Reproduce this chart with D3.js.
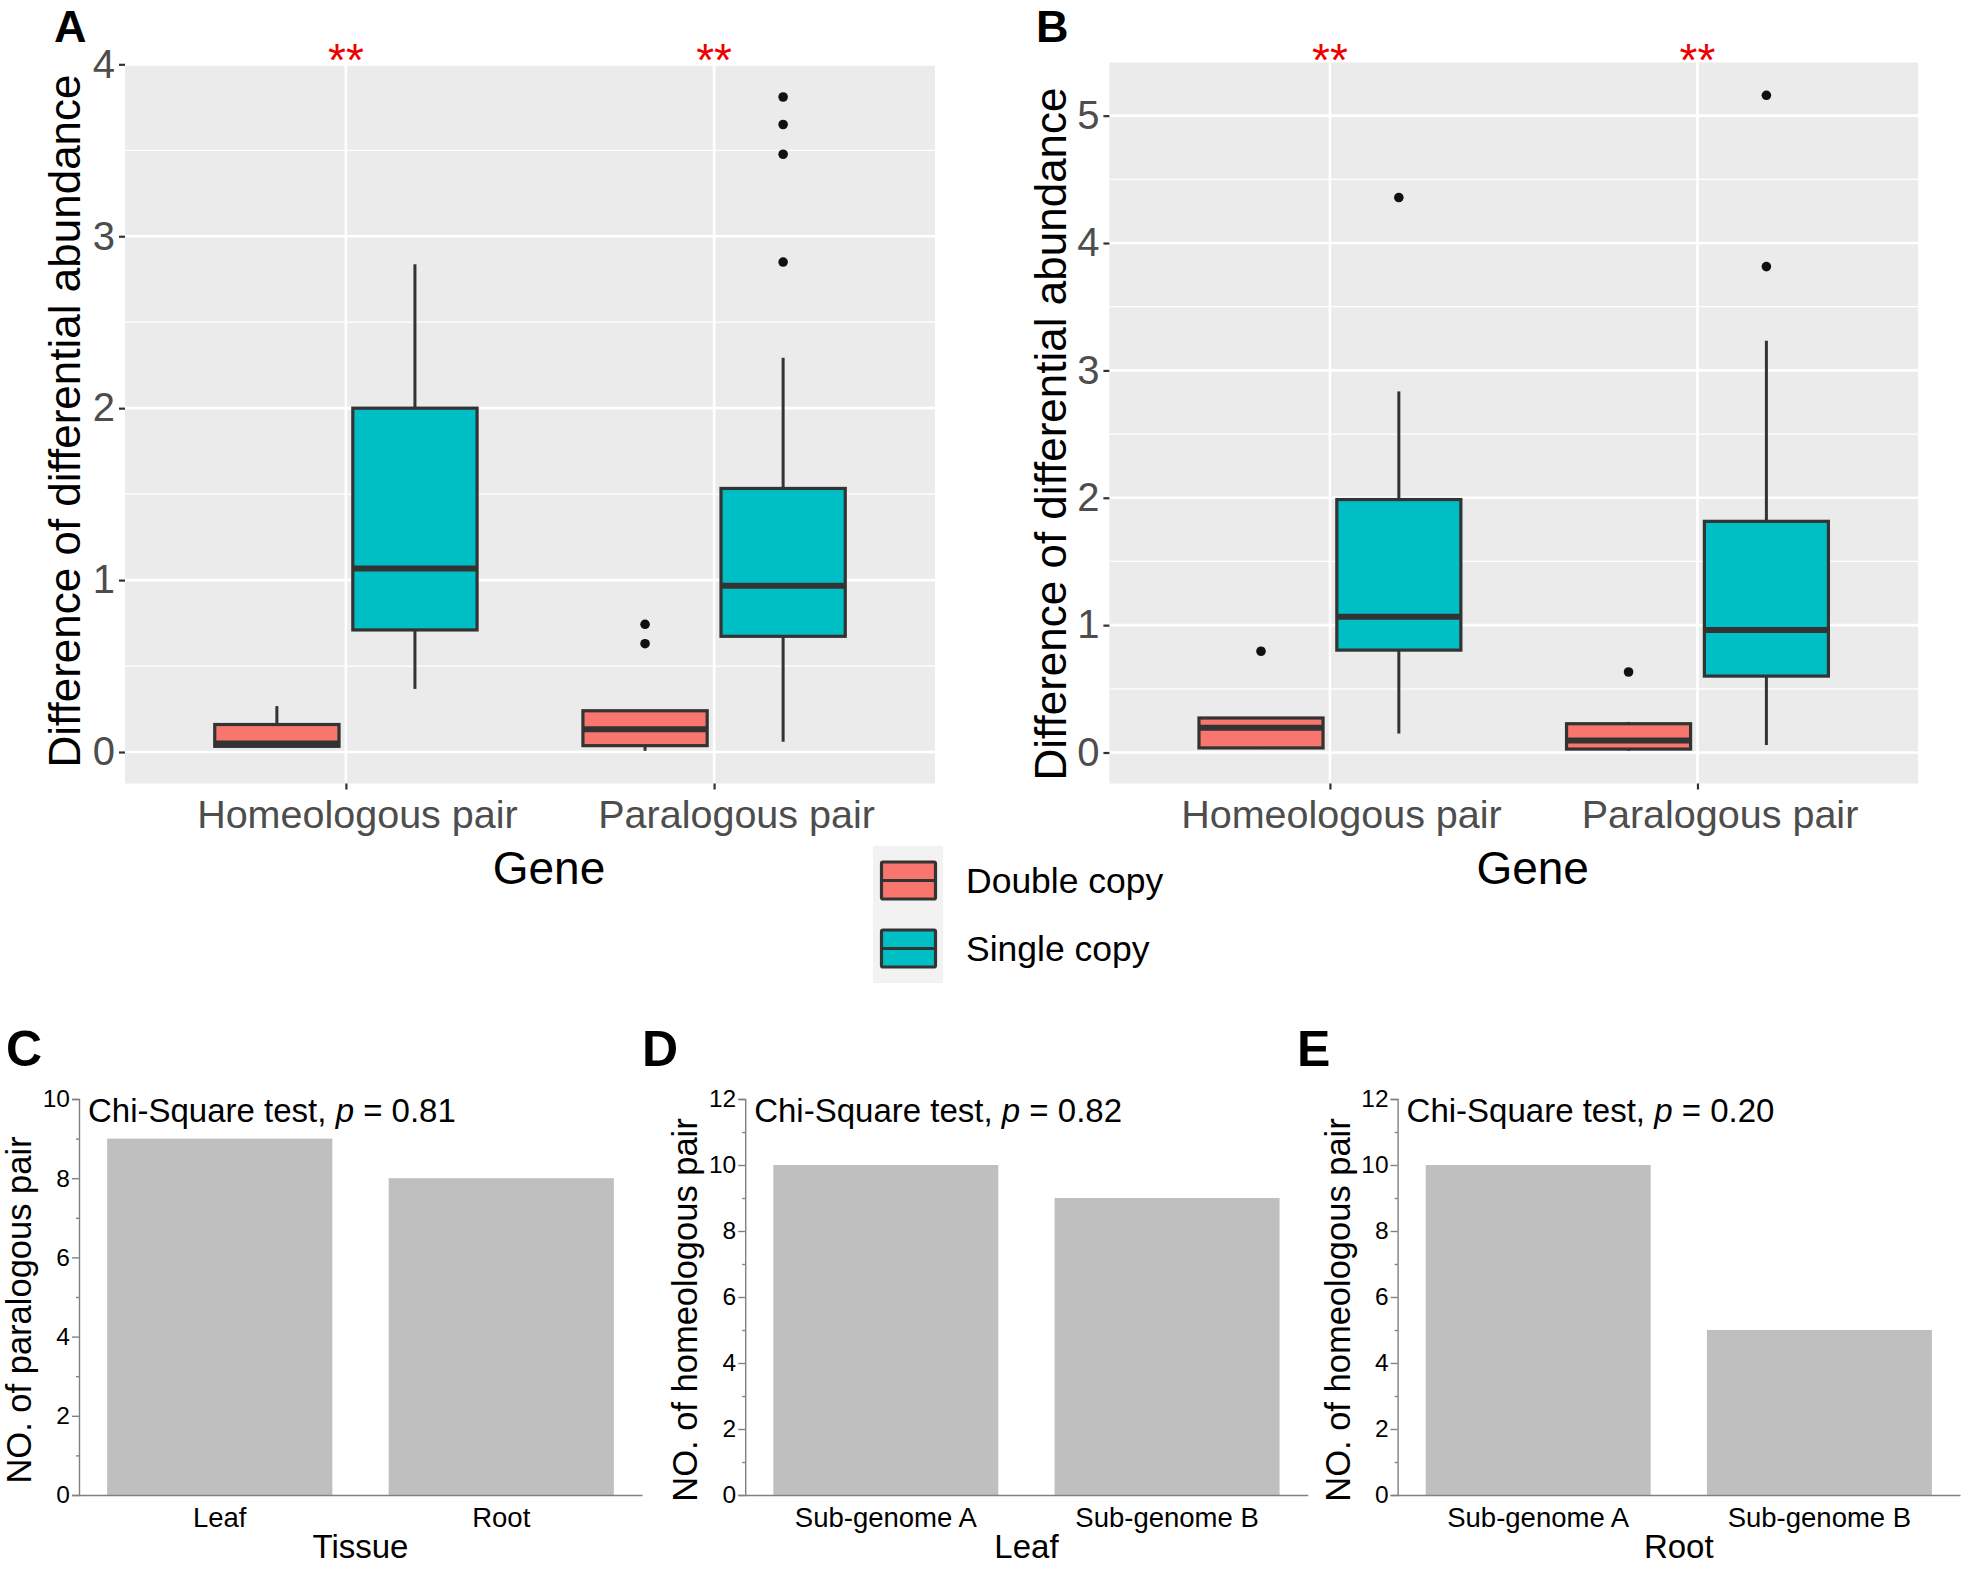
<!DOCTYPE html>
<html><head><meta charset="utf-8">
<script src="https://cdn.jsdelivr.net/npm/d3@7"></script>
<style>
html,body{margin:0;padding:0;background:#fff;}
svg{display:block;font-family:"Liberation Sans",Arial,sans-serif;}
</style></head>
<body>
<svg id="chart" width="1961" height="1570"></svg>
<script>
// ---------- DATA ----------
const geneCats = ["Homeologous pair", "Paralogous pair"];
const copyGroups = ["Double copy", "Single copy"];
const copyColors = ["#F8766D", "#00BFC4"];
// order of boxes: [Homeo-Double, Homeo-Single, Para-Double, Para-Single]
const A_lower   = [0.030, 0.367, 0.007, 0.060];
const A_q1      = [0.033, 0.710, 0.037, 0.673];
const A_median  = [0.050, 1.067, 0.133, 0.967];
const A_q3      = [0.160, 2.000, 0.240, 1.533];
const A_upper   = [0.267, 2.837, 0.240, 2.293];
const A_outliers = [[], [], [0.743, 0.630], [2.850, 3.477, 3.650, 3.810]];
const A_ticks = [0, 1, 2, 3, 4];

const B_lower   = [0.027, 0.149, 0.014, 0.059];
const B_q1      = [0.036, 0.804, 0.027, 0.600];
const B_median  = [0.194, 1.065, 0.095, 0.962];
const B_q3      = [0.271, 1.986, 0.226, 1.815];
const B_upper   = [0.271, 2.835, 0.240, 3.233];
const B_outliers = [[0.795], [4.357], [0.632], [3.815, 5.160]];
const B_ticks = [0, 1, 2, 3, 4, 5];

const signif = ["**", "**"];

const C_cats = ["Leaf", "Root"];
const C_vals = [9, 8];
const C_ticks = [0, 2, 4, 6, 8, 10];
const C_minor = [1, 3, 5, 7, 9];
const D_cats = ["Sub-genome A", "Sub-genome B"];
const D_vals = [10, 9];
const E_cats = ["Sub-genome A", "Sub-genome B"];
const E_vals = [10, 5];
const DE_ticks = [0, 2, 4, 6, 8, 10, 12];
const DE_minor = [1, 3, 5, 7, 9, 11];

const svg = d3.select("#chart");
const labelShift = [11, 22];

// ---------- BOX PANELS ----------
function boxPanel(o) {
  const g = svg.append("g");
  const boxes = [];
  geneCats.forEach((c, ci) => copyGroups.forEach((grp, gi) => {
    const i = ci * 2 + gi;
    boxes.push({cat: c, grp: gi, lower: o.lower[i], q1: o.q1[i], med: o.median[i],
                q3: o.q3[i], upper: o.upper[i], out: o.outliers[i]});
  }));
  const allVals = boxes.flatMap(b => [b.lower, b.upper, ...b.out]);
  const lo = d3.min(allVals), hi = d3.max(allVals), pad = (hi - lo) * 0.05;
  const y = d3.scaleLinear().domain([lo - pad, hi + pad]).range([o.y1, o.y0]);
  const x = d3.scalePoint().domain(geneCats).range([o.x0, o.x1]).padding(0.6);
  const step = x.step();

  g.append("rect").attr("x", o.x0).attr("y", o.y0).attr("width", o.x1 - o.x0)
    .attr("height", o.y1 - o.y0).attr("fill", "#EBEBEB");
  const dom = y.domain();
  const minor = d3.range(Math.ceil(dom[0] * 2) / 2, dom[1], 0.5).filter(v => Math.abs(v % 1) > 0.01);
  g.selectAll(".mn").data(minor).join("line")
    .attr("x1", o.x0).attr("x2", o.x1).attr("y1", d => y(d)).attr("y2", d => y(d))
    .attr("stroke", "#fff").attr("stroke-width", 1.3);
  g.selectAll(".mj").data(o.ticks).join("line")
    .attr("x1", o.x0).attr("x2", o.x1).attr("y1", d => y(d)).attr("y2", d => y(d))
    .attr("stroke", "#fff").attr("stroke-width", 2.6);
  g.selectAll(".vx").data(geneCats).join("line")
    .attr("x1", d => x(d)).attr("x2", d => x(d)).attr("y1", o.y0).attr("y2", o.y1)
    .attr("stroke", "#fff").attr("stroke-width", 2.6);

  // axes
  const ya = g.append("g").attr("transform", `translate(${o.x0},0)`)
    .call(d3.axisLeft(y).tickValues(o.ticks).tickFormat(d3.format("d")).tickSize(6).tickPadding(4));
  ya.select(".domain").remove();
  ya.selectAll("line").attr("stroke", "#333").attr("stroke-width", 2.2);
  ya.selectAll("text").attr("fill", "#4D4D4D").style("font-size", "40px")
    .style("font-family", "Liberation Sans, Arial, sans-serif");
  const xa = g.append("g").attr("transform", `translate(0,${o.y1})`)
    .call(d3.axisBottom(x).tickSize(6).tickPadding(10));
  xa.select(".domain").remove();
  xa.selectAll("line").attr("stroke", "#333").attr("stroke-width", 2.2);
  xa.selectAll("text").attr("fill", "#4D4D4D").style("font-size", "39.5px")
    .attr("dx", (d, i) => labelShift[i])
    .style("font-family", "Liberation Sans, Arial, sans-serif");

  const bw = step * 0.3375, off = step * 0.1875;
  const cx = b => x(b.cat) + (b.grp === 0 ? -off : off);
  const bg = g.selectAll(".box").data(boxes).join("g");
  bg.append("line").attr("x1", cx).attr("x2", cx).attr("y1", b => y(b.upper)).attr("y2", b => y(b.q3))
    .attr("stroke", "#333").attr("stroke-width", 3);
  bg.append("line").attr("x1", cx).attr("x2", cx).attr("y1", b => y(b.q1)).attr("y2", b => y(b.lower))
    .attr("stroke", "#333").attr("stroke-width", 3);
  bg.append("rect").attr("x", b => cx(b) - bw / 2).attr("width", bw)
    .attr("y", b => y(b.q3)).attr("height", b => y(b.q1) - y(b.q3))
    .attr("fill", b => copyColors[b.grp]).attr("stroke", "#333").attr("stroke-width", 3.2);
  bg.append("line").attr("x1", b => cx(b) - bw / 2).attr("x2", b => cx(b) + bw / 2)
    .attr("y1", b => y(b.med)).attr("y2", b => y(b.med)).attr("stroke", "#333").attr("stroke-width", 6);
  bg.selectAll("circle").data(b => b.out.map(v => ({v, b}))).join("circle")
    .attr("cx", d => cx(d.b)).attr("cy", d => y(d.v)).attr("r", 4.8).attr("fill", "#111");

  // significance
  g.selectAll(".sig").data(geneCats).join("text")
    .attr("x", d => x(d)).attr("y", o.sigY).attr("text-anchor", "middle")
    .attr("fill", "#EE0000").style("font-size", "46px").text((d, i) => signif[i]);

  // titles
  g.append("text").attr("transform", `translate(${o.ytX},${o.ytY}) rotate(-90)`)
    .attr("text-anchor", "middle").style("font-size", "44px").attr("fill", "#000")
    .text("Difference of differential abundance");
  g.append("text").attr("x", (o.x0 + o.x1) / 2 + 19).attr("y", 884).attr("text-anchor", "middle")
    .style("font-size", "46px").attr("fill", "#000").text("Gene");
  g.append("text").attr("x", o.labX).attr("y", 42).style("font-size", "45px")
    .style("font-weight", "bold").text(o.label);
}

boxPanel({x0: 125, x1: 935, y0: 64.3, y1: 783.5, lower: A_lower, q1: A_q1, median: A_median,
  q3: A_q3, upper: A_upper, outliers: A_outliers, ticks: A_ticks, sigY: 75.5,
  ytX: 80, ytY: 421, labX: 54, label: "A"});
boxPanel({x0: 1109.4, x1: 1918, y0: 62.5, y1: 783.5, lower: B_lower, q1: B_q1, median: B_median,
  q3: B_q3, upper: B_upper, outliers: B_outliers, ticks: B_ticks, sigY: 75.5,
  ytX: 1065.6, ytY: 434, labX: 1036, label: "B"});

// ---------- LEGEND ----------
const lg = svg.append("g");
lg.append("rect").attr("x", 873).attr("y", 846).attr("width", 70).attr("height", 137).attr("fill", "#F2F2F2");
const keyY = [862, 930];
lg.selectAll(".key").data(copyGroups).join("g").each(function (d, i) {
  const k = d3.select(this);
  k.append("rect").attr("x", 881.5).attr("y", keyY[i]).attr("width", 54).attr("height", 37)
    .attr("rx", 1.5).attr("fill", copyColors[i]).attr("stroke", "#333").attr("stroke-width", 3.2);
  k.append("line").attr("x1", 881.5).attr("x2", 935.5).attr("y1", keyY[i] + 18.5).attr("y2", keyY[i] + 18.5)
    .attr("stroke", "#333").attr("stroke-width", 3.2);
  k.append("text").attr("x", 966).attr("y", keyY[i] + 18.5).attr("dy", "0.35em")
    .style("font-size", "35.5px").attr("fill", "#000").text(d);
});

// ---------- BAR PANELS ----------
function barPanel(o) {
  const g = svg.append("g");
  const y = d3.scaleLinear().domain([0, d3.max(o.ticks)]).range([1495, 1099]);
  const x = d3.scaleBand().domain(o.cats).range([o.x0, o.x1]).paddingInner(0.2).paddingOuter(0.1);
  g.selectAll(".bar").data(o.vals).join("rect")
    .attr("x", (d, i) => x(o.cats[i])).attr("width", x.bandwidth())
    .attr("y", d => y(d)).attr("height", d => y(0) - y(d)).attr("fill", "#BFBFBF");
  const ya = g.append("g").attr("transform", `translate(${o.x0},0)`)
    .call(d3.axisLeft(y).tickValues(o.ticks).tickSize(7).tickPadding(2));
  ya.select(".domain").attr("stroke", "#808080").attr("stroke-width", 1.4);
  ya.selectAll(".tick line").attr("stroke", "#808080").attr("stroke-width", 1.4);
  ya.selectAll("text").attr("fill", "#000").style("font-size", "24.5px")
    .style("font-family", "Liberation Sans, Arial, sans-serif");
  const ym = g.append("g").attr("transform", `translate(${o.x0},0)`)
    .call(d3.axisLeft(y).tickValues(o.minor).tickSize(3).tickFormat(""));
  ym.select(".domain").remove();
  ym.selectAll("line").attr("stroke", "#808080").attr("stroke-width", 1.4);
  const xa = g.append("g").attr("transform", `translate(0,1495)`)
    .call(d3.axisBottom(x).tickSize(0).tickPadding(12).tickSizeOuter(0));
  xa.select(".domain").attr("stroke", "#808080").attr("stroke-width", 1.4);
  xa.selectAll("text").attr("fill", "#000").style("font-size", "27.5px")
    .style("font-family", "Liberation Sans, Arial, sans-serif");
  g.append("text").attr("x", (o.x0 + o.x1) / 2).attr("y", 1558).attr("text-anchor", "middle")
    .style("font-size", "33px").attr("fill", "#000").text(o.xTitle);
  g.append("text").attr("transform", `translate(${o.x0 - 48},1310) rotate(-90)`)
    .attr("text-anchor", "middle").style("font-size", "34.5px").attr("fill", "#000").text(o.yTitle);
  const t = g.append("text").attr("x", o.x0 + 9).attr("y", 1122).style("font-size", "33px").attr("fill", "#000");
  t.append("tspan").text("Chi-Square test, ");
  t.append("tspan").style("font-style", "italic").text("p");
  t.append("tspan").text(" = " + o.p);
  g.append("text").attr("x", o.labX).attr("y", 1066).style("font-size", "50px")
    .style("font-weight", "bold").text(o.label);
}

barPanel({x0: 79, x1: 642, cats: C_cats, vals: C_vals, ticks: C_ticks, minor: C_minor,
  xTitle: "Tissue", yTitle: "NO. of paralogous pair", p: "0.81", labX: 6, label: "C"});
barPanel({x0: 745.2, x1: 1307.7, cats: D_cats, vals: D_vals, ticks: DE_ticks, minor: DE_minor,
  xTitle: "Leaf", yTitle: "NO. of homeologous pair", p: "0.82", labX: 642, label: "D"});
barPanel({x0: 1397.6, x1: 1960, cats: E_cats, vals: E_vals, ticks: DE_ticks, minor: DE_minor,
  xTitle: "Root", yTitle: "NO. of homeologous pair", p: "0.20", labX: 1297, label: "E"});
</script>
</body></html>
